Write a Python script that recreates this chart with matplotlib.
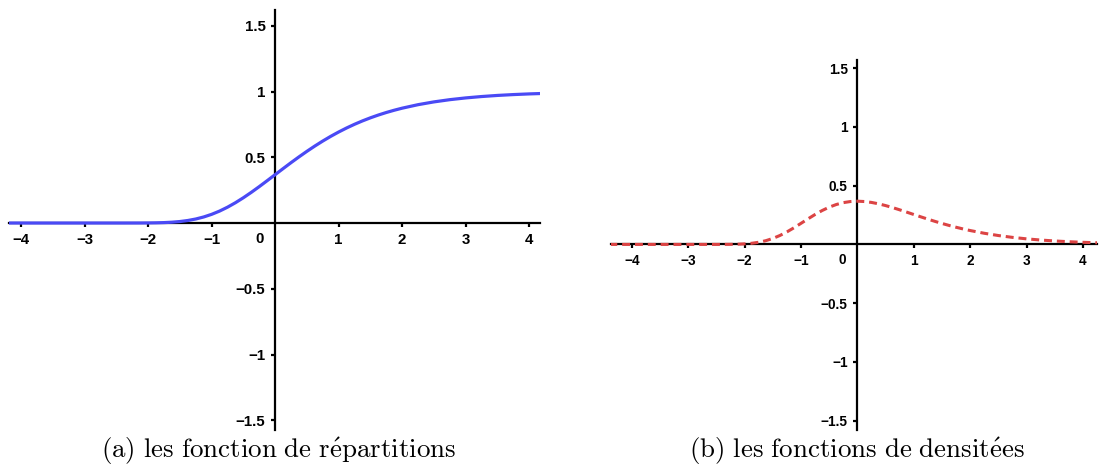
import matplotlib

matplotlib.use("Agg")
import matplotlib.pyplot as plt

plt.rcParams["mathtext.fontset"] = "cm"

# sampled curve values
x_cdf = [-4.2, -3.0, -2.5, -2.375, -2.25, -2.125, -2.0, -1.875, -1.75, -1.625, -1.5,
         -1.375, -1.25, -1.125, -1.0, -0.875, -0.75, -0.625, -0.5, -0.375, -0.25, -0.125,
         0.0, 0.125, 0.25, 0.375, 0.5, 0.625, 0.75, 0.875, 1.0, 1.125, 1.25, 1.375, 1.5,
         1.625, 1.75, 1.875, 2.0, 2.25, 2.5, 2.75, 3.0, 3.25, 3.5, 3.75, 4.0, 4.2]
y_cdf = [0.0, 0.0, 0.0, 0.0, 0.0001, 0.0002, 0.0006, 0.0015, 0.0032, 0.0062, 0.0113,
         0.0192, 0.0305, 0.0460, 0.0660, 0.0908, 0.1204, 0.1544, 0.1923, 0.2334, 0.2769, 0.3221,
         0.3679, 0.4137, 0.4590, 0.5029, 0.5452, 0.5855, 0.6235, 0.6591, 0.6922, 0.7228, 0.7509,
         0.7766, 0.8000, 0.8213, 0.8405, 0.8578, 0.8734, 0.9000, 0.9212, 0.9381, 0.9514,
         0.9619, 0.9703, 0.9768, 0.9819, 0.9851]

x_pdf = [-4.4, -3.0, -2.5, -2.375, -2.25, -2.125, -2.0, -1.875, -1.75, -1.625, -1.5,
         -1.375, -1.25, -1.125, -1.0, -0.875, -0.75, -0.625, -0.5, -0.375, -0.25, -0.125,
         0.0, 0.125, 0.25, 0.375, 0.5, 0.625, 0.75, 0.875, 1.0, 1.125, 1.25, 1.375, 1.5,
         1.625, 1.75, 1.875, 2.0, 2.25, 2.5, 2.75, 3.0, 3.25, 3.5, 3.75, 4.0, 4.3]
y_pdf = [0.0, 0.0, 0.0, 0.0002, 0.0007, 0.0019, 0.0046, 0.0096, 0.0182, 0.0316, 0.0507,
         0.0758, 0.1064, 0.1416, 0.1794, 0.2178, 0.2549, 0.2885, 0.3170, 0.3396, 0.3556, 0.3650,
         0.3679, 0.3651, 0.3575, 0.3456, 0.3307, 0.3134, 0.2945, 0.2748, 0.2546, 0.2347, 0.2151,
         0.1963, 0.1785, 0.1617, 0.1461, 0.1316, 0.1182, 0.0949, 0.0756, 0.0599, 0.0474,
         0.0373, 0.0293, 0.0230, 0.0180, 0.0134]

x_ticks = [-4, -3, -2, -1, 1, 2, 3, 4]
y_ticks = [-1.5, -1, -0.5, 0.5, 1, 1.5]
y_tick_labels = ["\u22121.5", "\u22121", "\u22120.5", "0.5", "1", "1.5"]

captions = [
    r"$\mathrm{(a)\ les\ fonction\ de\ r\acute{e}partitions}$",
    r"$\mathrm{(b)\ les\ fonctions\ de\ densit\acute{e}es}$",
]


def style_axes(ax, xlim, ylim, fontsize):
    ax.set_xlim(*xlim)
    ax.set_ylim(*ylim)
    for side in ("top", "right"):
        ax.spines[side].set_visible(False)
    for side in ("left", "bottom"):
        ax.spines[side].set_position(("data", 0))
        ax.spines[side].set_linewidth(1.6)
    ax.set_xticks(x_ticks)
    ax.set_xticklabels([str(t).replace("-", "\u2212") for t in x_ticks])
    ax.set_yticks(y_ticks)
    ax.set_yticklabels(y_tick_labels)
    ax.tick_params(direction="out", length=3, width=1.6, pad=4)
    for lab in ax.get_xticklabels() + ax.get_yticklabels():
        lab.set_fontfamily("Liberation Sans")
        lab.set_fontweight("bold")
        lab.set_fontsize(fontsize)
    ax.annotate("0", xy=(0, 0), xytext=(-8, -6.5), textcoords="offset points",
                ha="right", va="top", fontsize=fontsize, fontweight="bold",
                family="Liberation Sans")
    ax.patch.set_alpha(0)


fig = plt.figure(figsize=(10.99, 4.70), dpi=100)

ax1 = fig.add_axes([9 / 1099, 1 - 430 / 470, 531 / 1099, 420 / 470])
style_axes(ax1, (-4.19, 4.17), (-1.574, 1.62), 10.8)
ax1.plot(x_cdf, y_cdf, color="#4a4af5", lw=2.3, zorder=3, solid_capstyle="butt")

ax2 = fig.add_axes([611 / 1099, 1 - 430 / 470, 486 / 1099, 370 / 470])
style_axes(ax2, (-4.37, 4.25), (-1.58, 1.57), 9.8)
ax2.plot(x_pdf, y_pdf, color="#dc4444", lw=2.2, ls=(0, (2.6, 1.6)), zorder=3)

fig.text(279 / 1099, 1 - 451 / 470, captions[0], ha="center", va="center", fontsize=19.4)
fig.text(857 / 1099, 1 - 451 / 470, captions[1], ha="center", va="center", fontsize=19.4)

fig.savefig("out.png", dpi=100)
plt.close(fig)
